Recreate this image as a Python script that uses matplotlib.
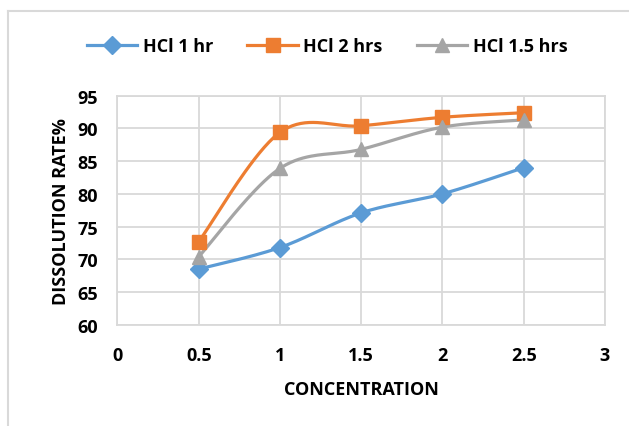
import numpy as np
import matplotlib
matplotlib.use("Agg")
import matplotlib.pyplot as plt
from matplotlib.lines import Line2D

concentration = [0.5, 1.0, 1.5, 2.0, 2.5]
hcl_1hr = [68.5, 71.8, 77.1, 80.0, 84.0]
hcl_2hrs = [72.7, 89.4, 90.4, 91.7, 92.4]
hcl_15hrs = [70.4, 83.9, 86.8, 90.2, 91.3]
series_names = ["HCl 1 hr", "HCl 2 hrs", "HCl 1.5 hrs"]
x_ticks = [0, 0.5, 1, 1.5, 2, 2.5, 3]
y_ticks = [60, 65, 70, 75, 80, 85, 90, 95]

colors = ["#5B9BD5", "#ED7D31", "#A5A5A5"]
markers = ["D", "s", "^"]
msizes = [9, 10, 10]

plt.rcParams['font.family'] = ['Open Sans', 'DejaVu Sans']
plt.rcParams['font.weight'] = 'bold'
FS = 13


def smooth(x, y, n=40):
    x = np.asarray(x, float)
    y = np.asarray(y, float)
    P = np.column_stack([x, y])
    out = [P[0]]
    m = len(P)
    for i in range(m - 1):
        p0 = P[i - 1] if i > 0 else P[i]
        p1 = P[i]
        p2 = P[i + 1]
        p3 = P[i + 2] if i + 2 < m else P[i + 1]
        c1 = p1 + (p2 - p0) / 6.0
        c2 = p2 - (p3 - p1) / 6.0
        t = np.linspace(0, 1, n)[1:, None]
        seg = ((1 - t) ** 3) * p1 + 3 * ((1 - t) ** 2) * t * c1 + 3 * (1 - t) * t ** 2 * c2 + t ** 3 * p2
        out.extend(seg)
    out = np.array(out)
    return out[:, 0], out[:, 1]


fig = plt.figure(figsize=(6.29, 4.27), dpi=100)
ax = fig.add_axes([0.1868, 0.2372, 0.775, 0.5363])

data = [hcl_1hr, hcl_2hrs, hcl_15hrs]
handles = []
for vals, c, mk, ms, name in zip(data, colors, markers, msizes, series_names):
    sx, sy = smooth(concentration, vals)
    ax.plot(sx, sy, color=c, lw=2.3, zorder=3, solid_capstyle='round')
    ax.plot(concentration, vals, linestyle='none', marker=mk, ms=ms, color=c,
            markeredgecolor=c, zorder=4)
    handles.append(Line2D([], [], color=c, lw=2.3, marker=mk, ms=ms, label=name))

ax.set_xlim(0, 3)
ax.set_ylim(60, 95)
ax.set_xticks(x_ticks)
ax.set_xticklabels([f"{t:g}" for t in x_ticks], fontweight='bold', fontsize=FS)
ax.set_yticks(y_ticks)
ax.set_yticklabels([str(t) for t in y_ticks], fontweight='bold', fontsize=FS)
ax.grid(True, color="#D9D9D9", lw=1.3)
ax.set_axisbelow(True)
for s in ax.spines.values():
    s.set_color("#D9D9D9")
    s.set_linewidth(1.3)
ax.tick_params(length=0, pad=14)
ax.tick_params(axis='x', pad=15)

ax.set_xlabel("CONCENTRATION", fontsize=FS, fontweight='bold', labelpad=12)
ax.set_ylabel("DISSOLUTION RATE%", fontsize=FS, fontweight='bold', labelpad=5)

leg = fig.legend(handles=handles, loc='center', bbox_to_anchor=(0.52, 0.89), ncol=3,
                 frameon=False, handlelength=2.8, handletextpad=0.3,
                 columnspacing=1.9, prop={'weight': 'bold', 'size': FS})

# chart border (left and top)
fig.add_artist(Line2D([8 / 629, 8 / 629], [0, 1 - 12 / 427], color="#D9D9D9", lw=1.5,
                      transform=fig.transFigure))
fig.add_artist(Line2D([8 / 629, 1], [1 - 12 / 427, 1 - 12 / 427], color="#D9D9D9", lw=1.5,
                      transform=fig.transFigure))

fig.savefig("out.png", dpi=100)
